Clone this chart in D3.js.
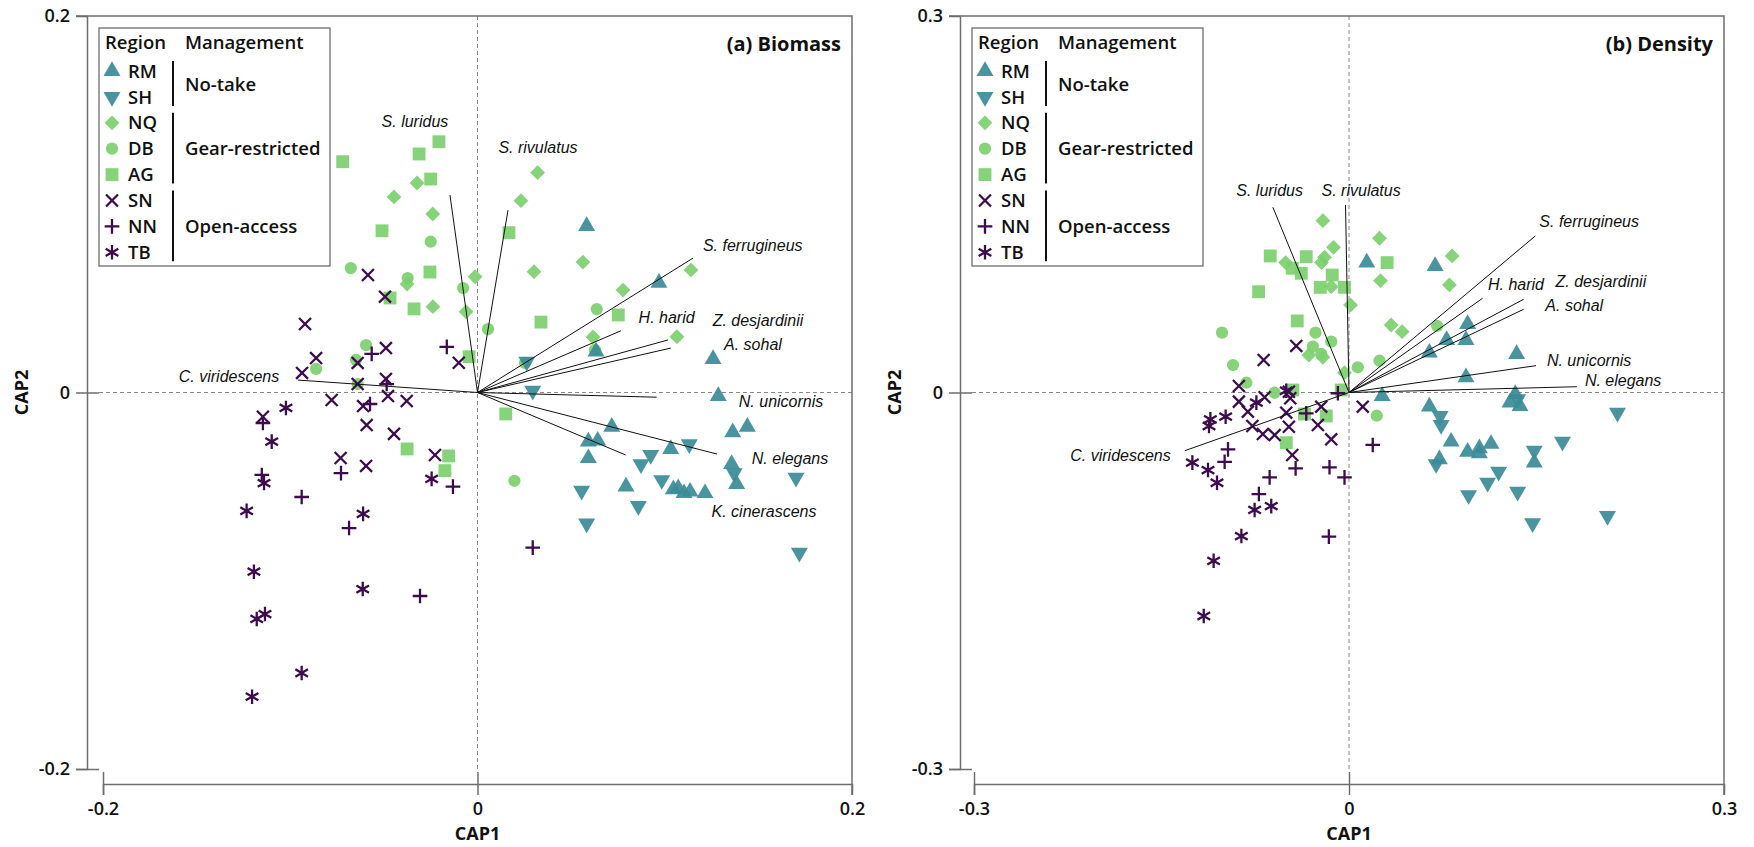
<!DOCTYPE html>
<html>
<head>
<meta charset="utf-8">
<script src="https://cdn.jsdelivr.net/npm/d3@7.9.0/dist/d3.min.js"></script>
<style>
  body { margin: 0; background: #fff; }
  svg { display: block; font-family: "Open Sans", "Noto Sans", sans-serif; }
  .tick text { font-size: 18px; font-weight: 600; fill: #111; font-family: "Open Sans", sans-serif; }
  .vec-label { font-family: "Liberation Sans", Arial, sans-serif; font-style: italic; font-size: 16px; fill: #111; }
  .axis-title { font-size: 18px; font-weight: 700; fill: #111; }
  .panel-title { font-size: 20px; font-weight: 700; fill: #111; }
  .legend text { font-size: 18.5px; font-weight: 600; fill: #111; }
</style>
</head>
<body>
<svg id="chart" width="1754" height="847"></svg>
<script>
// ---- data: CAP scores per region, (a) biomass ----
const bioRM = [[0.0583,0.0884],[0.0969,0.0583],[0.0633,0.0217],[0.1258,0.0178],[0.1286,-0.0019],[0.0717,-0.0182],[0.0592,-0.0261],[0.0642,-0.0256],[0.0592,-0.0349],[0.1032,-0.0300],[0.1363,-0.0211],[0.1441,-0.0182],[0.1357,-0.0380],[0.1384,-0.0486],[0.0793,-0.0500],[0.1046,-0.0514],[0.1072,-0.0509],[0.1135,-0.0527],[0.1215,-0.0535],[0.1103,-0.0535]];
const bioSH = [[0.0263,0.0164],[0.0295,0.0010],[0.1131,-0.0274],[0.0925,-0.0332],[0.0873,-0.0381],[0.1371,-0.0429],[0.1701,-0.0452],[0.0556,-0.0521],[0.0984,-0.0465],[0.0859,-0.0603],[0.0583,-0.0695],[0.1719,-0.0851]];
const bioNQ = [[-0.0323,0.1113],[-0.0446,0.1039],[-0.0239,0.0948],[-0.0376,0.0576],[-0.0238,0.0456],[-0.0061,0.0429],[-0.0013,0.0615],[0.0321,0.1168],[0.0232,0.1019],[0.0302,0.0642],[0.0563,0.0693],[0.0777,0.0544],[0.1140,0.0651],[0.0617,0.0295],[0.1065,0.0296]];
const bioDB = [[-0.0250,0.0801],[-0.0677,0.0661],[-0.0373,0.0608],[-0.0077,0.0555],[-0.0595,0.0252],[-0.0862,0.0125],[-0.0649,0.0173],[-0.0640,0.0045],[0.0056,0.0337],[0.0637,0.0443],[0.0254,0.0157],[0.0627,0.0226],[0.0197,-0.0469]];
const bioAG = [[-0.0720,0.1226],[-0.0206,0.1332],[-0.0312,0.1267],[-0.0250,0.1134],[-0.0510,0.0859],[-0.0254,0.0640],[-0.0467,0.0502],[-0.0339,0.0444],[-0.0045,0.0190],[0.0168,0.0849],[0.0339,0.0374],[0.0752,0.0412],[-0.0376,-0.0300],[-0.0154,-0.0337],[-0.0174,-0.0415],[0.0151,-0.0114]];
const bioSN = [[-0.0585,0.0624],[-0.0494,0.0509],[-0.0921,0.0364],[-0.0862,0.0183],[-0.0937,0.0104],[-0.0640,0.0157],[-0.0489,0.0236],[-0.0100,0.0158],[-0.0640,0.0045],[-0.0489,0.0072],[-0.0779,-0.0040],[-0.0478,-0.0019],[-0.0378,-0.0045],[-0.1146,-0.0129],[-0.0611,-0.0072],[-0.0592,-0.0173],[-0.0446,-0.0220],[-0.0731,-0.0348],[-0.0595,-0.0390],[-0.0227,-0.0332]];
const bioNN = [[-0.0565,0.0205],[-0.0164,0.0242],[-0.0485,0.0045],[-0.0574,-0.0061],[-0.1146,-0.0162],[-0.1152,-0.0438],[-0.0729,-0.0428],[-0.0939,-0.0555],[-0.0686,-0.0720],[-0.0131,-0.0500],[-0.0307,-0.1081],[0.0295,-0.0824]];
const bioTB = [[-0.1023,-0.0082],[-0.1099,-0.0261],[-0.1140,-0.0481],[-0.1233,-0.0629],[-0.0611,-0.0645],[-0.0245,-0.0459],[-0.1194,-0.0952],[-0.0613,-0.1044],[-0.1179,-0.1203],[-0.1135,-0.1177],[-0.0939,-0.1490],[-0.1204,-0.1616]];

// ---- data: CAP scores per region, (b) density ----
const denRM = [[0.0142,0.1035],[0.0689,0.1008],[0.0781,0.0418],[0.0643,0.0317],[0.0265,-0.0028],[0.0643,-0.0113],[0.0949,0.0546],[0.0936,0.0418],[0.1341,0.0307],[0.0936,0.0121],[0.1330,-0.0012],[0.1288,-0.0081],[0.1368,-0.0108],[0.0817,-0.0392],[0.0949,-0.0472],[0.1043,-0.0445],[0.1136,-0.0410],[0.1043,-0.0485],[0.1482,-0.0559],[0.0723,-0.0532]];
const denSH = [[0.0729,-0.0187],[0.0737,-0.0259],[0.1349,-0.0054],[0.2148,-0.0161],[0.1708,-0.0392],[0.1482,-0.0464],[0.0697,-0.0570],[0.1197,-0.0631],[0.1109,-0.0719],[0.0957,-0.0817],[0.1349,-0.0791],[0.1469,-0.1042],[0.2068,-0.0984]];
const denNQ = [[-0.0209,0.1369],[0.0244,0.1229],[-0.0124,0.1157],[-0.0196,0.1078],[-0.0220,0.1035],[-0.0507,0.1035],[0.0252,0.0891],[-0.0142,0.0843],[0.0012,0.0697],[0.0337,0.0538],[0.0425,0.0485],[-0.0321,0.0299],[-0.0209,0.0281],[-0.0036,0.0158],[0.0825,0.1088],[0.0803,0.0857]];
const denDB = [[-0.1016,0.0477],[-0.0268,0.0477],[-0.0142,0.0405],[-0.0289,0.0365],[-0.0222,0.0307],[-0.0928,0.0219],[0.0244,0.0253],[0.0070,0.0201],[0.0705,0.0530],[-0.0821,0.0078],[-0.0595,-0.0002],[0.0222,-0.0185]];
const denAG = [[-0.0630,0.1088],[-0.0342,0.1082],[-0.0454,0.0990],[-0.0382,0.0950],[-0.0134,0.0936],[-0.0230,0.0838],[-0.0036,0.0838],[-0.0723,0.0803],[0.0305,0.1035],[-0.0414,0.0570],[-0.0449,0.0020],[-0.0062,0.0020],[-0.0182,-0.0187],[-0.0356,-0.0171],[-0.0502,-0.0400]];
const denSN = [[-0.0422,0.0371],[-0.0683,0.0259],[-0.0881,0.0052],[-0.0881,-0.0073],[-0.0481,0.0006],[0.0110,-0.0113],[-0.0222,-0.0113],[-0.0809,-0.0153],[-0.0675,-0.0038],[-0.0470,-0.0046],[-0.0502,-0.0161],[-0.0481,-0.0273],[-0.0773,-0.0267],[-0.0689,-0.0331],[-0.0595,-0.0339],[-0.0249,-0.0259],[-0.0142,-0.0373],[-0.0454,-0.0498]];
const denNN = [[-0.0089,-0.0006],[-0.0342,-0.0166],[-0.0968,-0.0453],[-0.0995,-0.0552],[-0.0635,-0.0676],[-0.0427,-0.0604],[-0.0156,-0.0596],[-0.0036,-0.0676],[-0.0721,-0.0809],[-0.0161,-0.1149],[0.0190,-0.0418]];
const denTB = [[-0.0502,0.0014],[-0.0741,-0.0081],[-0.0987,-0.0193],[-0.1109,-0.0214],[-0.1120,-0.0267],[-0.1253,-0.0559],[-0.1128,-0.0618],[-0.1056,-0.0719],[-0.0755,-0.0936],[-0.0622,-0.0905],[-0.0861,-0.1144],[-0.1083,-0.1341],[-0.1162,-0.1781]];

// ---- species vectors ----
const bioSpecies = ["S. luridus","S. rivulatus","S. ferrugineus","H. harid","Z. desjardinii","A. sohal","N. unicornis","N. elegans","K. cinerascens","C. viridescens"];
const bioVecX = [-0.0147,0.0163,0.1151,0.0766,0.1017,0.1032,0.0957,0.1279,0.0791,-0.0959];
const bioVecY = [0.1049,0.0969,0.0714,0.0328,0.0279,0.0236,-0.0025,-0.0327,-0.0332,0.0066];
const denSpecies = ["S. luridus","S. rivulatus","S. ferrugineus","H. harid","Z. desjardinii","A. sohal","N. unicornis","N. elegans","C. viridescens"];
const denVecX = [-0.0609,-0.0028,0.1490,0.1069,0.1397,0.1397,0.1496,0.1823,-0.1314];
const denVecY = [0.1476,0.1494,0.1247,0.0751,0.0743,0.0663,0.0214,0.0046,-0.0464];

// label anchors (layout, in axis units)
const bioLabelAt = [[-0.0334,0.1439],[0.0323,0.1304],[0.1470,0.0784],[0.1010,0.0401],[0.1498,0.0381],[0.1471,0.0258],[0.1621,-0.0049],[0.1669,-0.0348],[0.1530,-0.0633],[-0.1327,0.0088]];
const denLabelAt = [[-0.0635,0.1608],[0.0097,0.1614],[0.1921,0.1367],[0.1336,0.0865],[0.2015,0.0883],[0.1802,0.0697],[0.1921,0.0259],[0.2193,0.0094],[-0.1828,-0.0498]];

const bioTicks = [-0.2, 0, 0.2];
const denTicks = [-0.3, 0, 0.3];

const regions = ["RM","SH","NQ","DB","AG","SN","NN","TB"];
const managementGroups = ["No-take","Gear-restricted","Open-access"];
const groupRegions = [["RM","SH"],["NQ","DB","AG"],["SN","NN","TB"]];

// ---- styling ----
const teal = '#3a8b97', green = '#7ccf6e', purple = '#3d0c4c';
const axisColor = '#6e6e6e';

const symTimes = d3.symbolTimes || { draw(c, s) { const r = Math.sqrt(s - Math.min(s / 6, 1.7)) * 0.6189; c.moveTo(-r, -r); c.lineTo(r, r); c.moveTo(-r, r); c.lineTo(r, -r); } };
const symPlus = (d3.symbolsStroke && d3.symbolsStroke[1]) || { draw(c, s) { const r = Math.sqrt(s - Math.min(s / 7, 2)) * 0.87559; c.moveTo(-r, 0); c.lineTo(r, 0); c.moveTo(0, r); c.lineTo(0, -r); } };
const symAst = d3.symbolAsterisk || { draw(c, s) { const r = Math.sqrt(s + Math.min(s / 28, 0.75)) * 0.59436, t = r / 2, u = t * Math.sqrt(3); c.moveTo(0, r); c.lineTo(0, -r); c.moveTo(-u, -t); c.lineTo(u, t); c.moveTo(-u, t); c.lineTo(u, -t); } };

const marker = {
  RM: { type: d3.symbolTriangle, size: 125, rot: 0, color: teal, fill: true },
  SH: { type: d3.symbolTriangle, size: 125, rot: 180, color: teal, fill: true },
  NQ: { type: d3.symbolSquare, size: 110, rot: 45, color: green, fill: true },
  DB: { type: d3.symbolCircle, size: 118, rot: 0, color: green, fill: true },
  AG: { type: d3.symbolSquare, size: 165, rot: 0, color: green, fill: true },
  SN: { type: symTimes, size: 95, rot: 0, color: purple, fill: false },
  NN: { type: symPlus, size: 72, rot: 0, color: purple, fill: false },
  TB: { type: symAst, size: 150, rot: 0, color: purple, fill: false }
};

function drawMarker(sel, region) {
  const m = marker[region];
  sel.attr('d', d3.symbol().type(m.type).size(m.size)())
    .attr('fill', m.fill ? m.color : 'none')
    .attr('fill-opacity', 0.92)
    .attr('stroke', m.fill ? 'none' : m.color)
    .attr('stroke-width', 2.3);
}

const svg = d3.select('#chart');

function drawPanel(p) {
  const g = svg.append('g');
  const x = d3.scaleLinear().domain([p.ticks[0], p.ticks[2]]).range(p.xRange);
  const y = d3.scaleLinear().domain([p.ticks[0], p.ticks[2]]).range(p.yRange);
  const top = y(p.ticks[2]), right = x(p.ticks[2]);

  // zero reference lines
  g.append('line').attr('x1', x(0)).attr('x2', x(0)).attr('y1', top).attr('y2', p.axisY - 12)
    .attr('stroke', '#888').attr('stroke-dasharray', '4,3');
  g.append('line').attr('x1', p.axisX + 12).attr('x2', right).attr('y1', y(0)).attr('y2', y(0))
    .attr('stroke', '#888').attr('stroke-dasharray', '4,3');

  // frame (top, right)
  g.append('path')
    .attr('d', `M${p.axisX - 11},${top}H${right}V${p.axisY + 11}`)
    .attr('fill', 'none').attr('stroke', axisColor).attr('stroke-width', 1.5);

  const fmt = d => d === 0 ? '0' : String(d);
  const yAxis = g.append('g').attr('transform', `translate(${p.axisX},0)`)
    .call(d3.axisLeft(y).tickValues(p.ticks).tickFormat(fmt).tickSizeOuter(0).tickSize(11).tickPadding(6));
  yAxis.selectAll('.tick line').attr('x1', 12);
  const xAxis = g.append('g').attr('transform', `translate(0,${p.axisY})`)
    .call(d3.axisBottom(x).tickValues(p.ticks).tickFormat(fmt).tickSizeOuter(0).tickSize(11).tickPadding(7));
  xAxis.selectAll('.tick line').attr('y1', -12);
  [yAxis, xAxis].forEach(a => {
    a.selectAll('.domain, .tick line').attr('stroke', axisColor).attr('stroke-width', 1.5);
    a.selectAll('.tick text').attr('font-size', null).attr('font-family', null);
  });
  yAxis.select('.tick:last-of-type line').remove();
  xAxis.select('.tick:last-of-type line').remove();

  // points
  const order = ["AG","DB","NQ","SH","RM","TB","NN","SN"];
  order.forEach(r => {
    g.append('g').selectAll('path').data(p.points[r]).join('path')
      .attr('transform', d => `translate(${x(d[0])},${y(d[1])}) rotate(${marker[r].rot})`)
      .call(drawMarker, r);
  });

  // species vectors
  g.append('g').selectAll('line').data(p.species).join('line')
    .attr('x1', x(0)).attr('y1', y(0))
    .attr('x2', (d, i) => x(p.vecX[i])).attr('y2', (d, i) => y(p.vecY[i]))
    .attr('stroke', '#111').attr('stroke-width', 1);
  g.append('g').selectAll('text').data(p.species).join('text')
    .attr('class', 'vec-label')
    .attr('x', (d, i) => x(p.labelAt[i][0])).attr('y', (d, i) => y(p.labelAt[i][1]))
    .attr('dy', '0.35em').attr('text-anchor', 'middle')
    .text(d => d);

  // titles
  g.append('text').attr('class', 'panel-title').attr('x', right - 11).attr('y', 51)
    .attr('text-anchor', 'end').text(p.title);
  g.append('text').attr('class', 'axis-title').attr('x', x(0)).attr('y', 840)
    .attr('text-anchor', 'middle').text('CAP1');
  g.append('text').attr('class', 'axis-title')
    .attr('transform', `translate(${p.cap2X},${y(0)}) rotate(-90)`)
    .attr('text-anchor', 'middle').attr('dy', '0.35em').text('CAP2');

  drawLegend(g, p.axisX + 12, 28);
}

function drawLegend(g, x0, y0) {
  const lg = g.append('g').attr('class', 'legend').attr('transform', `translate(${x0},${y0})`);
  lg.append('rect').attr('width', 231).attr('height', 238)
    .attr('fill', '#fff').attr('stroke', axisColor).attr('stroke-width', 1.3);
  lg.append('text').attr('x', 6).attr('y', 14).attr('dy', '0.357em').text('Region');
  lg.append('text').attr('x', 86).attr('y', 14).attr('dy', '0.357em').text('Management');
  const rowY = i => 43 + i * 25.9;
  regions.forEach((r, i) => {
    lg.append('path').attr('transform', `translate(13,${rowY(i)}) rotate(${marker[r].rot})`).call(drawMarker, r);
    lg.append('text').attr('x', 29).attr('y', rowY(i)).attr('dy', '0.357em').text(r);
  });
  let start = 0;
  managementGroups.forEach((m, gi) => {
    const n = groupRegions[gi].length;
    const a = rowY(start) - 10, b = rowY(start + n - 1) + 9;
    lg.append('line').attr('x1', 74).attr('x2', 74).attr('y1', a).attr('y2', b)
      .attr('stroke', '#111').attr('stroke-width', 2);
    lg.append('text').attr('x', 86).attr('y', (rowY(start) + rowY(start + n - 1)) / 2)
      .attr('dy', '0.357em').text(m);
    start += n;
  });
}

drawPanel({
  title: '(a) Biomass', ticks: bioTicks, axisX: 87, axisY: 784,
  xRange: [103, 852], yRange: [769, 16], cap2X: 22,
  points: { RM: bioRM, SH: bioSH, NQ: bioNQ, DB: bioDB, AG: bioAG, SN: bioSN, NN: bioNN, TB: bioTB },
  species: bioSpecies, vecX: bioVecX, vecY: bioVecY, labelAt: bioLabelAt
});
drawPanel({
  title: '(b) Density', ticks: denTicks, axisX: 960, axisY: 784,
  xRange: [974, 1724], yRange: [769, 16], cap2X: 895,
  points: { RM: denRM, SH: denSH, NQ: denNQ, DB: denDB, AG: denAG, SN: denSN, NN: denNN, TB: denTB },
  species: denSpecies, vecX: denVecX, vecY: denVecY, labelAt: denLabelAt
});
</script>
</body>
</html>
